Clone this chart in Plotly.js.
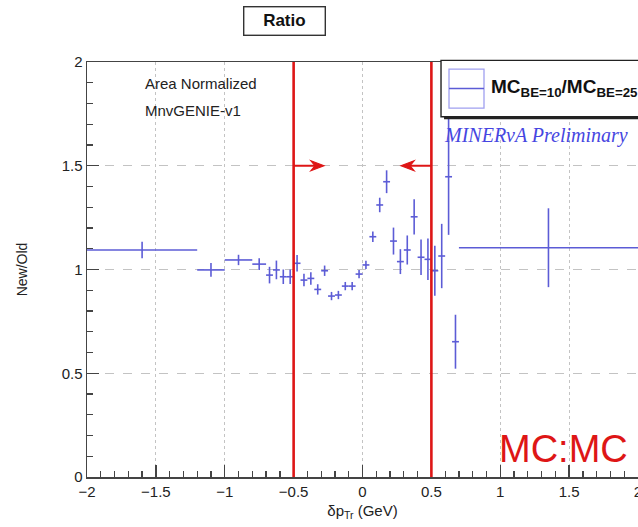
<!DOCTYPE html>
<html>
<head>
<meta charset="utf-8">
<script src="https://cdn.plot.ly/plotly-3.0.1.min.js"></script>
<style>
  html, body { margin: 0; padding: 0; background: #fff; }
  #chart { width: 638px; height: 527px; }
</style>
</head>
<body>
<div id="chart"></div>
<script>
// Bin centres and half-widths of the delta p_T histogram (GeV)
const binCenters = [-1.6, -1.1, -0.9, -0.75,
  -0.675, -0.625, -0.575, -0.525, -0.475, -0.425, -0.375, -0.325, -0.275, -0.225,
  -0.175, -0.125, -0.075, -0.025, 0.025, 0.075, 0.125, 0.175, 0.225, 0.275,
  0.325, 0.375, 0.425, 0.475, 0.525, 0.575, 0.625, 0.675,
  1.35];
const binHalfWidths = [0.4, 0.1, 0.1, 0.05,
  0.025, 0.025, 0.025, 0.025, 0.025, 0.025, 0.025, 0.025, 0.025, 0.025,
  0.025, 0.025, 0.025, 0.025, 0.025, 0.025, 0.025, 0.025, 0.025, 0.025,
  0.025, 0.025, 0.025, 0.025, 0.025, 0.025, 0.025, 0.025,
  0.65];
// MC(BE=10) / MC(BE=25) ratio and its statistical uncertainty
const ratio = [1.094, 0.998, 1.046, 1.026,
  0.973, 0.998, 0.965, 0.965, 1.030, 0.949, 0.957, 0.904, 0.994, 0.872,
  0.877, 0.920, 0.920, 0.978, 1.022, 1.158, 1.311, 1.423, 1.137, 1.038,
  1.094, 1.254, 1.059, 1.049, 0.994, 1.065, 1.447, 0.652,
  1.105];
const ratioErr = [0.040, 0.033, 0.025, 0.028,
  0.040, 0.045, 0.035, 0.035, 0.040, 0.030, 0.030, 0.025, 0.025, 0.020,
  0.020, 0.020, 0.020, 0.020, 0.020, 0.025, 0.035, 0.055, 0.065, 0.060,
  0.070, 0.085, 0.085, 0.100, 0.120, 0.155, 0.280, 0.130,
  0.190];

// Signal-region cuts on delta p_T and the arrows marking the kept side
const cuts = [-0.5, 0.5];
const arrowLevel = 1.5;
const arrowLength = 0.22;
const xTickVals = [-2, -1.5, -1, -0.5, 0, 0.5, 1, 1.5, 2];
const yTickVals = [0, 0.5, 1, 1.5, 2];

const blue = 'rgb(92,92,214)';
const red = 'rgb(222,22,22)';
const font = 'Liberation Sans, Arial, sans-serif';

const trace = {
  type: 'scatter',
  mode: 'markers',
  x: binCenters,
  y: ratio,
  marker: { size: 0.1, color: blue },
  error_x: { type: 'data', array: binHalfWidths, visible: true, width: 0, thickness: 1.6, color: blue },
  error_y: { type: 'data', array: ratioErr, visible: true, width: 0, thickness: 1.6, color: blue },
  showlegend: false,
  hoverinfo: 'x+y'
};

const shapes = [];
cuts.forEach((c, i) => {
  const dir = i === 0 ? 1 : -1;
  const tip = c + dir * arrowLength;
  shapes.push({ type: 'line', xref: 'x', yref: 'paper', x0: c, x1: c, y0: 0, y1: 1,
    line: { color: red, width: 2.6 } });
  shapes.push({ type: 'line', xref: 'x', yref: 'y', x0: c, x1: tip - dir * 0.03, y0: arrowLevel, y1: arrowLevel,
    line: { color: red, width: 2 } });
  shapes.push({ type: 'path', xref: 'x', yref: 'y', xsizemode: 'pixel', ysizemode: 'pixel',
    xanchor: tip, yanchor: arrowLevel,
    path: `M ${-dir * 13},5 L 0,0 L ${-dir * 13},-5 L ${-dir * 9},0 Z`,
    fillcolor: red, line: { color: red, width: 1.2 } });
});

// Legend box with drop shadow and swatch
shapes.push({ type: 'rect', xref: 'paper', yref: 'paper', x0: 0.648, x1: 1.05, y0: 0.862, y1: 0.870,
  line: { width: 0 }, fillcolor: '#222', layer: 'above' });
shapes.push({ type: 'rect', xref: 'paper', yref: 'paper', x0: 0.6425, x1: 1.05, y0: 0.868, y1: 1.004,
  line: { color: '#222', width: 1.4 }, fillcolor: '#fff', layer: 'above' });
shapes.push({ type: 'rect', xref: 'paper', yref: 'paper', x0: 0.657, x1: 0.7205, y0: 0.889, y1: 0.983,
  line: { color: 'rgb(160,160,240)', width: 1.3 }, fillcolor: 'rgba(0,0,0,0)', layer: 'above' });
shapes.push({ type: 'line', xref: 'paper', yref: 'paper', x0: 0.657, x1: 0.7205, y0: 0.936, y1: 0.936,
  line: { color: blue, width: 1.6 }, layer: 'above' });

const annotations = [
  { text: '<b>Ratio</b>', xref: 'paper', yref: 'paper', x: (284 - 87) / 551, y: (477 - 21) / 415,
    xanchor: 'center', yanchor: 'middle', showarrow: false,
    font: { family: font, size: 17, color: '#111' },
    bordercolor: '#333', borderwidth: 1.4, borderpad: 4, bgcolor: '#fff', width: 72 },
  { text: 'Area Normalized', xref: 'paper', yref: 'paper', x: (143 - 87) / 551, y: (477 - 83) / 415,
    xanchor: 'left', yanchor: 'middle', showarrow: false, font: { family: font, size: 15, color: '#222' } },
  { text: 'MnvGENIE-v1', xref: 'paper', yref: 'paper', x: (143 - 87) / 551, y: (477 - 110) / 415,
    xanchor: 'left', yanchor: 'middle', showarrow: false, font: { family: font, size: 15, color: '#222' } },
  { text: '<b>MC<sub>BE=10</sub>/MC<sub>BE=25</sub></b>', xref: 'paper', yref: 'paper', x: (489 - 87) / 551, y: (477 - 88) / 415,
    xanchor: 'left', yanchor: 'middle', showarrow: false, font: { family: font, size: 19, color: '#111' } },
  { text: '<i>MINERνA Preliminary</i>', xref: 'paper', yref: 'paper', x: (442 - 87) / 551, y: (477 - 135) / 415,
    xanchor: 'left', yanchor: 'middle', showarrow: false, font: { family: 'Liberation Serif, Times New Roman, serif', size: 20, color: 'rgb(70,70,225)' } },
  { text: 'MC:MC', xref: 'paper', yref: 'paper', x: (563 - 87) / 551, y: (477 - 449) / 415,
    xanchor: 'center', yanchor: 'middle', showarrow: false, font: { family: 'Liberation Sans Narrow, Liberation Sans, sans-serif', size: 38, color: red } }
];

const layout = {
  width: 638, height: 527,
  margin: { l: 87, r: 0, t: 62, b: 50 },
  paper_bgcolor: '#fff', plot_bgcolor: '#fff',
  showlegend: false,
  xaxis: {
    range: [-2, 2], tickvals: xTickVals, ticks: 'inside', ticklen: 12, tickwidth: 1.3, tickcolor: '#444',
    minor: { dtick: 0.1, ticks: 'inside', ticklen: 6, tickcolor: '#444', showgrid: false },
    showline: true, linecolor: '#444', linewidth: 1.5, mirror: true,
    showgrid: true, gridcolor: 'rgb(195,195,195)', griddash: 'dot', gridwidth: 1,
    zeroline: false, ticklabeloverflow: 'allow',
    tickfont: { family: font, size: 15, color: '#222' },
    title: { text: 'δp<sub>Tr</sub> (GeV)', font: { family: font, size: 15, color: '#222' }, standoff: 7 }
  },
  yaxis: {
    range: [0, 2], tickvals: yTickVals, ticks: 'inside', ticklen: 12, tickwidth: 1.3, tickcolor: '#444',
    minor: { dtick: 0.1, ticks: 'inside', ticklen: 6, tickcolor: '#444', showgrid: false },
    showline: true, linecolor: '#444', linewidth: 1.5, mirror: false,
    showgrid: true, gridcolor: 'rgb(195,195,195)', griddash: 'dash', gridwidth: 1,
    zeroline: false,
    tickfont: { family: font, size: 15, color: '#222' },
    title: { text: 'New/Old', font: { family: font, size: 14, color: '#222' }, standoff: 30 }
  },
  shapes: shapes,
  annotations: annotations
};

Plotly.newPlot('chart', [trace], layout, { displayModeBar: false, staticPlot: true });
</script>
</body>
</html>
